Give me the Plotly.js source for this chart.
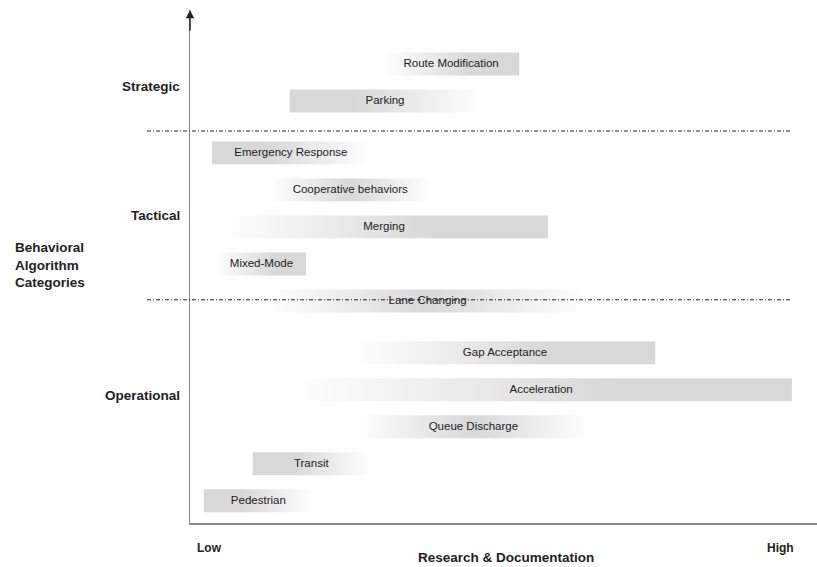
<!DOCTYPE html>
<html>
<head>
<meta charset="utf-8">
<script src="https://cdn.plot.ly/plotly-3.0.1.min.js"></script>
<style>html,body{margin:0;padding:0;background:#fff;}#chart{width:817px;height:567px;}</style>
</head>
<body>
<div id="chart"></div>
<script>
// ---- data ----
const categories = ['Route Modification','Parking','Emergency Response','Cooperative behaviors','Merging','Mixed-Mode','Lane Changing','Gap Acceptance','Acceleration','Queue Discharge','Transit','Pedestrian'];
const groupOf = ['Strategic','Strategic','Tactical','Tactical','Tactical','Tactical','Tactical','Operational','Operational','Operational','Operational','Operational'];
const startVals = [30.8, 15.9, 3.5, 12.8, 4.8, 4.3, 12.6, 26.3, 16.0, 26.6, 10.0, 2.2];
const endVals   = [52.5, 46.3, 28.7, 38.3, 57.1, 18.5, 63.2, 74.2, 96.0, 63.8, 28.7, 19.6];
const solidSide = ['end','start','start','center','end','end','center','end','end','center','start','start'];
const groupNames = ['Strategic','Tactical','Operational'];
const groupLabelPos = [0.6, 4.1, 8.95];
const boundaryPos = [1.81, 6.37];
const xTickLabels = ['Low','High'];

// ---- layout helpers ----
const GAP = 1.4, BAR_HALF = 0.31;
const gray = 'rgb(216,216,216)', white = 'rgb(255,255,255)';
const yRange = [12.4, -1.46];
const xRange = [0, 100];

const rowPos = [];
let p = 0;
categories.forEach((c, i) => {
  if (i > 0) p += (groupOf[i] !== groupOf[i-1]) ? GAP : 1;
  rowPos.push(p);
});

function scaleFor(side) {
  if (side === 'start') return [[0, gray],[0.35, gray],[1, white]];
  if (side === 'end') return [[0, white],[0.65, gray],[1, gray]];
  return [[0, white],[0.5, gray],[1, white]];
}

const traces = categories.map((c, i) => {
  const s = startVals[i], e = endVals[i], y = rowPos[i];
  return {
    type: 'scatter', mode: 'lines',
    x: [s, e, e, s, s],
    y: [y - BAR_HALF, y - BAR_HALF, y + BAR_HALF, y + BAR_HALF, y - BAR_HALF],
    fill: 'toself',
    fillgradient: {type: 'horizontal', colorscale: scaleFor(solidSide[i])},
    line: {width: 0},
    hoverinfo: 'skip', showlegend: false
  };
});

traces.push({
  type: 'scatter', mode: 'text',
  x: categories.map((c, i) => (startVals[i] + endVals[i]) / 2),
  y: rowPos,
  text: categories,
  textfont: {family: 'Liberation Sans, Arial, sans-serif', size: 11.5, color: '#222'},
  hoverinfo: 'skip', showlegend: false, cliponaxis: false
});

function yPaper(v) { return (v - yRange[0]) / (yRange[1] - yRange[0]); }

const shapes = boundaryPos.map(v => ({
  type: 'line', xref: 'paper', yref: 'paper',
  x0: -0.0686, x1: 0.96, y0: yPaper(v), y1: yPaper(v),
  line: {color: '#222', width: 1, dash: '4px,2px,1px,2px'}
}));

const boldFont = {family: 'Liberation Sans, Arial, sans-serif', size: 13.5, color: '#222', weight: 'bold'};
const annotations = [];
groupNames.forEach((g, i) => annotations.push({
  xref: 'paper', yref: 'y', x: 0, y: groupLabelPos[i], xanchor: 'right', xshift: -8,
  text: g, showarrow: false, font: boldFont
}));
annotations.push({
  xref: 'paper', yref: 'paper', x: -0.283, y: yPaper((265 - 64) / 37.03), xanchor: 'left', align: 'left',
  text: 'Behavioral<br>Algorithm<br>Categories', showarrow: false, font: boldFont
});
annotations.push({
  xref: 'x', yref: 'paper', x: 3.1, y: 0, yanchor: 'middle', yshift: -25,
  text: xTickLabels[0], showarrow: false, font: Object.assign({}, boldFont, {size: 12})
});
annotations.push({
  xref: 'x', yref: 'paper', x: 94.1, y: 0, yanchor: 'middle', yshift: -25,
  text: xTickLabels[1], showarrow: false, font: Object.assign({}, boldFont, {size: 12})
});
annotations.push({
  xref: 'paper', yref: 'paper', x: 0.504, y: 0, yanchor: 'middle', yshift: -34,
  text: 'Research &amp; Documentation', showarrow: false, font: boldFont
});
annotations.push({
  xref: 'paper', yref: 'paper', x: 0, y: 1, ax: 0, ay: 22, text: '',
  showarrow: true, arrowhead: 2, arrowsize: 1.1, arrowwidth: 1.5, arrowcolor: '#222'
});

const layout = {
  width: 817, height: 567,
  margin: {l: 190, r: 0, t: 10, b: 44},
  paper_bgcolor: '#fff', plot_bgcolor: '#fff',
  showlegend: false,
  xaxis: {range: xRange, showgrid: false, zeroline: false, showticklabels: false, ticks: '',
          showline: true, linecolor: '#888', linewidth: 1.5, fixedrange: true},
  yaxis: {range: yRange, showgrid: false, zeroline: false, showticklabels: false, ticks: '',
          showline: true, linecolor: '#888', linewidth: 1.5, fixedrange: true},
  shapes: shapes,
  annotations: annotations
};

Plotly.newPlot('chart', traces, layout, {displayModeBar: false, staticPlot: true});
</script>
</body>
</html>
